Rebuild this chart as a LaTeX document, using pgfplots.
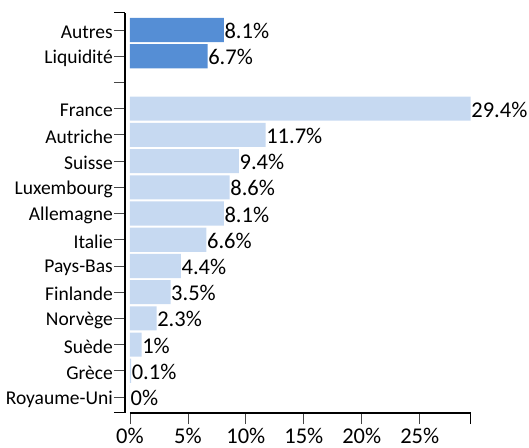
\documentclass[border=0pt]{standalone}
\usepackage{pgfplots}
\pgfplotsset{compat=1.18}
\usepackage{fontspec}
\setmainfont{Carlito}
\definecolor{darkbar}{RGB}{85,142,213}
\definecolor{lightbar}{RGB}{198,217,241}
\definecolor{tickgray}{RGB}{70,70,70}

% y positions: 0 = Royaume-Uni ... 11 = France, 12 = gap, 13 = Liquidite, 14 = Autres
\pgfplotstableread{
y  v
14 8.1
13 6.7
}\dark
\pgfplotstableread{
y  v
11 29.4
10 11.7
9  9.4
8  8.6
7  8.1
6  6.6
5  4.4
4  3.5
3  2.3
2  1
1  0.1
0  0
}\light

\begin{document}
\begin{tikzpicture}
\begin{axis}[
  name=ax,
  scale only axis,
  width=345.7pt, height=400pt,
  xbar, bar shift=0pt, bar width=0.92,
  xmin=-0.43, xmax=29.4,
  ymin=-0.61, ymax=14.65,
  clip=false,
  axis line style={draw=none},
  tick align=outside,
  xtick pos=bottom, ytick pos=left,
  major tick length=11pt,
  tick style={tickgray, line width=0.8pt},
  xtick={0,5,10,15,20,25},
  xticklabel={\pgfmathprintnumber{\tick}\%},
  ytick={0,...,14},
  yticklabels={Royaume-Uni,Grèce,Suède,Norvège,Finlande,Pays-Bas,Italie,Allemagne,Luxembourg,Suisse,Autriche,France,{},Liquidité,Autres},
  extra x ticks={29.4}, extra x tick labels={},
  extra y ticks={-0.61,14.65}, extra y tick labels={},
  extra tick style={tick style={black, line width=1pt}},
  /pgf/number format/assume math mode=true,
  xticklabel style={font=\fontsize{22.5}{26}\selectfont, yshift=-1pt},
  yticklabel style={inner sep=1pt, yshift=-2pt, font=\fontsize{19.5}{23}\selectfont},
  point meta=x,
  nodes near coords={\pgfmathprintnumber{\pgfplotspointmeta}\%},
  nodes near coords style={anchor=west, inner sep=0.5pt, yshift=-1pt, font=\fontsize{22.5}{26}\selectfont, black},
]
\addplot[draw=none, fill=darkbar] table[x=v, y=y] {\dark};
\addplot[draw=none, fill=lightbar] table[x=v, y=y] {\light};
\draw[black, line width=1.5pt] (axis cs:0,-0.61) -- (axis cs:29.4,-0.61);
\draw[black, line width=1.5pt] (axis cs:-0.43,-0.61) -- (axis cs:-0.43,14.65);
\end{axis}
\pgfresetboundingbox
\path ([xshift=-125pt,yshift=-35pt]ax.south west) rectangle ([xshift=58.3pt,yshift=13pt]ax.north east);
\end{tikzpicture}
\end{document}
